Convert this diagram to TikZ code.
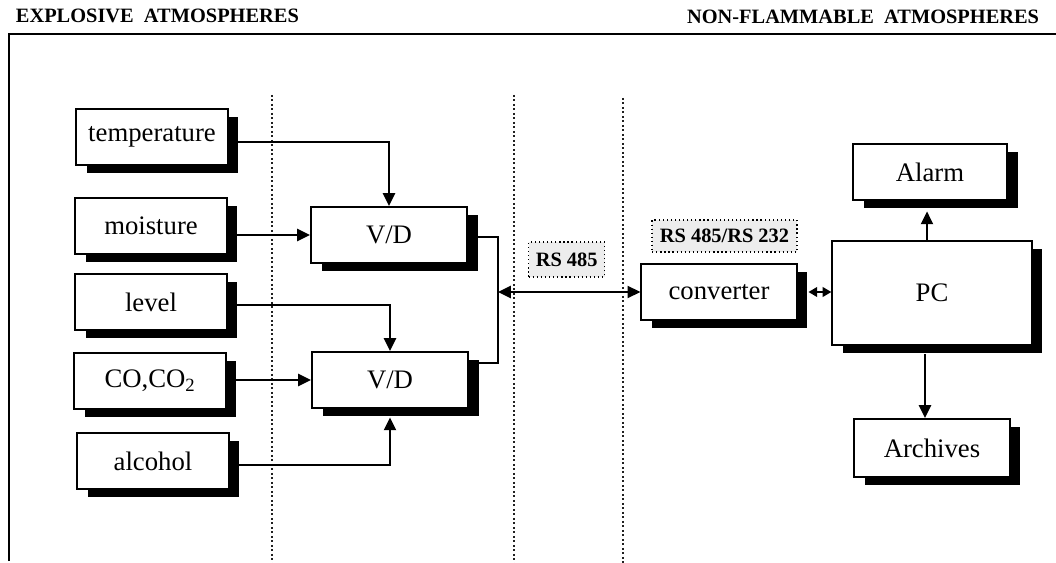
\documentclass[tikz,border=0pt]{standalone}
\usepackage{fontspec}
\setmainfont{Liberation Serif}
\usetikzlibrary{arrows.meta,positioning,calc,shadows}
\definecolor{ZNInk}{HTML}{000000}
\definecolor{ZNPaper}{HTML}{FFFFFF}
\definecolor{ZNScreen}{HTML}{EDEDED}
\definecolor{ZNDots}{HTML}{202020}
\tikzset{
  wire/.style={ZNInk,line width=1.5pt},
  flow/.style={wire,-{Triangle[length=3.2mm,width=3.0mm]}},
  flowboth/.style={wire,{Triangle[length=3.2mm,width=3.0mm]}-{Triangle[length=3.2mm,width=3.0mm]}},
  flowshort/.style={wire,{Triangle[length=2.2mm,width=2.4mm]}-{Triangle[length=2.2mm,width=2.4mm]}},
  block/.style={draw=ZNInk,line width=1.4pt,fill=ZNPaper,text=ZNInk,
                font=\fontsize{19}{22}\selectfont,align=center,
                drop shadow={shadow xshift=2.7mm,shadow yshift=-2.1mm,fill=ZNInk,opacity=1}},
  sensor/.style={block,minimum width=3.78cm,minimum height=1.4cm},
  unit/.style={block,minimum width=3.9cm,minimum height=1.4cm},
  tag/.style={draw=ZNInk,dotted,line width=0.9pt,fill=ZNScreen,text=ZNInk,
              font=\fontsize{14.5}{16}\selectfont\bfseries,inner sep=1pt},
  zone/.style={ZNDots,line width=1.2pt,dotted},
  frame/.style={ZNInk,line width=1.3pt},
  zonehead/.style={text=ZNInk,font=\fontsize{14.5}{16}\selectfont\bfseries},
}

\begin{document}
\begin{tikzpicture}[x=0.025cm,y=-0.025cm]
    \useasboundingbox (0,0) rectangle (1056,563);

    % headings and the sheet frame
    \node[zonehead,anchor=base west] (hexp) at (11,23) {EXPLOSIVE\ \ ATMOSPHERES};
    \node[zonehead,anchor=base east] (hsafe) at (1044,24) {NON-FLAMMABLE\ \ ATMOSPHERES};
    \coordinate (ftl) at (9,34);
    \coordinate (ftr) at (1056,34);
    \coordinate (fbl) at (9,561);
    \draw[frame] (fbl) -- (ftl) -- (ftr);

    % zone borders
    \coordinate (za) at (272,95);   \coordinate (zaa) at (272,563);
    \coordinate (zb) at (514,95);   \coordinate (zbb) at (514,563);
    \coordinate (zc) at (623,98);   \coordinate (zcc) at (623,563);
    \draw[zone] (za) -- (zaa);
    \draw[zone] (zb) -- (zbb);
    \draw[zone] (zc) -- (zcc);

    % sensors
    \node[sensor] (temp) at (152,137) {temperature};
    \node[sensor] (moist) at (151,226) {moisture};
    \node[sensor] (level) at (151,302) {level};
    \node[sensor] (co) at (150,381) {CO,CO\textsubscript{2}};
    \node[sensor] (alc) at (153,461) {alcohol};

    % the two V/D units and their bus
    \node[unit] (vdA) at (389,235) {V/D};
    \node[unit] (vdB) at (390,380) {V/D};
    \draw[flow] (temp.east |- 0,142) -| (vdA.north);
    \draw[flow] (moist.east |- vdA.west) -- (vdA.west);
    \draw[flow] (level.east |- 0,305) -| (vdB.north);
    \draw[flow] (co.east |- vdB.west) -- (vdB.west);
    \draw[flow] (alc.east |- 0,465) -| ([yshift=-2.1mm]vdB.south);
    \coordinate (busT) at (498,237);
    \coordinate (busB) at (498,363);
    \draw[wire] (vdA.east |- busT) -- (busT) -- (busB) -- (vdB.east |- busB);

    % safe side
    \node[unit,minimum width=3.88cm] (conv) at (719,292) {converter};
    \node[unit,minimum width=4.98cm,minimum height=2.6cm] (pc) at (932,293) {PC};
    \node[unit,minimum width=3.85cm] (alarm) at (930,172) {Alarm};
    \node[unit,minimum width=3.88cm,minimum height=1.45cm] (arch) at (932,448) {Archives};
    \node[tag,minimum width=1.9cm,minimum height=0.87cm,anchor=west] (rsA) at (528,259.5) {RS 485};
    \node[tag,minimum width=3.62cm,minimum height=0.8cm] (rsB) at (724.5,236) {RS 485/RS 232};

    \draw[flowboth] (busT |- conv.west) -- (conv.west);
    \draw[flowshort] ([xshift=2.7mm]conv.east) -- (conv.east -| pc.west);
    \draw[flow] (pc.north -| 927,0) -- ([yshift=-2.6mm]alarm.south -| 927,0);
    \draw[flow] ([yshift=-2.1mm]pc.south -| 925,0) -- (arch.north -| 925,0);
  \end{tikzpicture}
\end{document}
